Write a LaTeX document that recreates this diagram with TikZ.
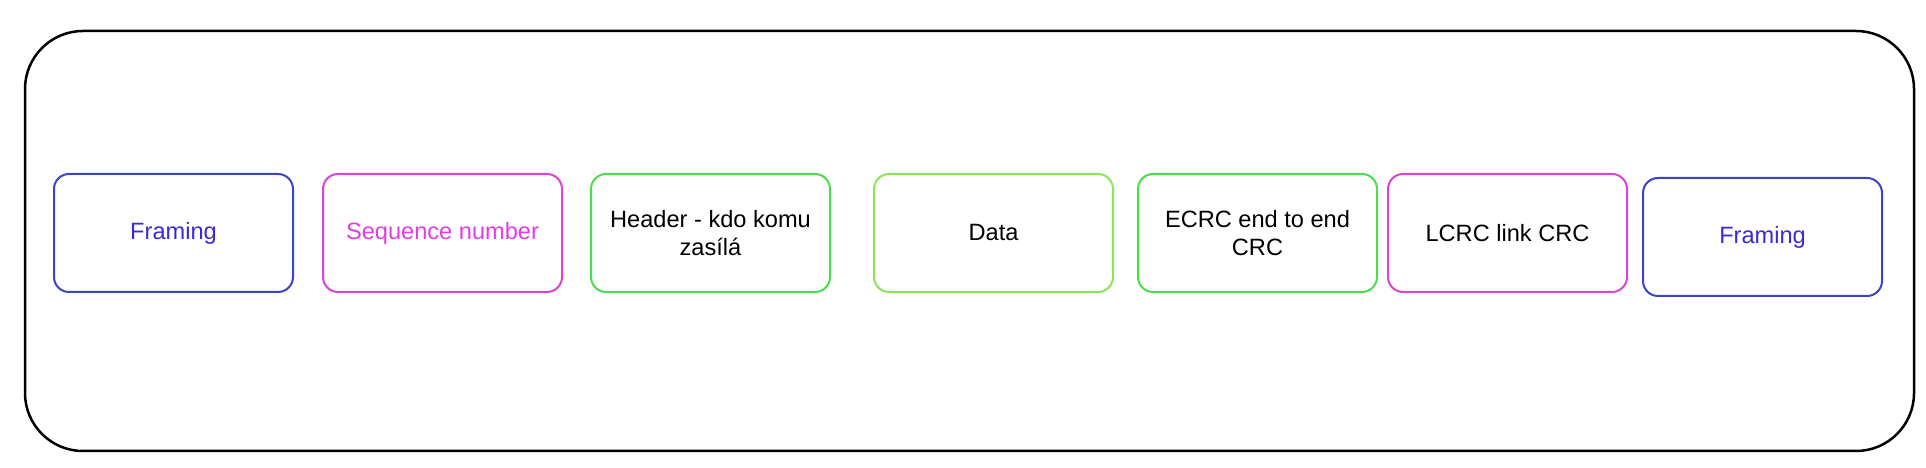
\documentclass[tikz,border=0pt]{standalone}
\usepackage{fontspec}
\setmainfont{Liberation Sans}
\usetikzlibrary{positioning}
\definecolor{frameblue}{HTML}{3A45C8}
\definecolor{frametext}{HTML}{3C28D8}
\definecolor{seqpink}{HTML}{D944D9}
\definecolor{seqtext}{HTML}{E23CE2}
\definecolor{hdrgreen}{HTML}{4CDD4C}
\definecolor{datagreen}{HTML}{8CE65A}

\begin{document}
\begin{tikzpicture}[font=\fontsize{23.6}{28.5}\selectfont, line width=2pt,
  field node/.style={rectangle,draw,rounded corners=15pt,align=center,minimum width=239pt,minimum height=118pt,inner sep=0pt},
  frame node/.style={field node,draw=frameblue,text=frametext},
  seq node/.style={field node,draw=seqpink},
  hdr node/.style={field node,draw=hdrgreen},
  data node/.style={field node,draw=datagreen}]

  \useasboundingbox (0pt,0pt) rectangle (1926pt,468pt);
  \draw[line width=2.5pt,rounded corners=58pt] (25pt,17pt) rectangle (1914pt,437pt);

  \node[frame node] (F1) at (173.5pt,235pt) {Framing};
  \node[seq node,text=seqtext] (S) [right=28pt of F1] {Sequence number};
  \node[hdr node] (H) [right=27pt of S] {Header - kdo komu\\zasílá};
  \node[data node] (D) [right=42pt of H] {Data};
  \node[hdr node] (E) [right=23pt of D] {ECRC end to end\\CRC};
  \node[seq node] (L) [right=9pt of E] {LCRC link CRC};
  \node[frame node] (F2) [right=14pt of L, yshift=-4pt] {Framing};
\end{tikzpicture}
\end{document}
